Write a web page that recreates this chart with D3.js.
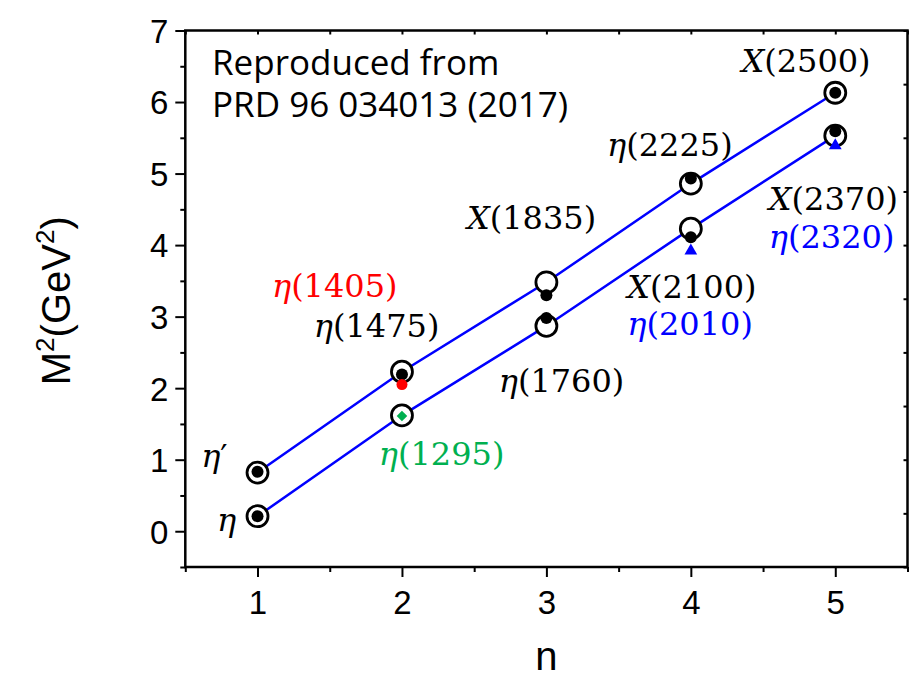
<!DOCTYPE html>
<html>
<head>
<meta charset="utf-8">
<script src="https://cdn.jsdelivr.net/npm/d3@7"></script>
<style>
  body { margin: 0; background: #fff; }
  svg { display: block; }
</style>
</head>
<body>
<div id="chart"></div>
<script>
// radial quantum number
const nValues = [1, 2, 3, 4, 5]

// model predictions (open circles), M^2 in GeV^2
const upperModel = [0.82, 2.23, 3.48, 4.86, 6.13]
const lowerModel = [0.21, 1.62, 2.87, 4.23, 5.53]

// measured states (black dots)
const blackN = [1, 1, 2, 3, 3, 4, 4, 5, 5]
const blackM2 = [0.83, 0.21, 2.19, 3.30, 2.98, 4.93, 4.11, 6.13, 5.59]

// other states
const redPoint = [2, 2.05]        // eta(1405)
const greenPoint = [2, 1.61]      // eta(1295)
const blueN = [4, 5]              // eta(2010), eta(2320)
const blueM2 = [3.92, 5.39]

const xTicks = [1, 2, 3, 4, 5]
const yTicks = [0, 1, 2, 3, 4, 5, 6, 7]

// label text and anchor in data coordinates (start of text, baseline)
const labels = [
  {sym: "η", num: "′", color: "#000", n: 0.61, m2: 0.90},
  {sym: "η", num: "", color: "#000", n: 0.72, m2: 0.0},
  {sym: "η", num: "(1405)", color: "#ff0000", n: 1.10, m2: 3.28},
  {sym: "η", num: "(1475)", color: "#000", n: 1.39, m2: 2.71},
  {sym: "η", num: "(1295)", color: "#00b050", n: 1.84, m2: 0.92},
  {sym: "X", num: "(1835)", color: "#000", n: 2.45, m2: 4.23},
  {sym: "η", num: "(1760)", color: "#000", n: 2.67, m2: 1.95},
  {sym: "η", num: "(2225)", color: "#000", n: 3.42, m2: 5.25},
  {sym: "X", num: "(2100)", color: "#000", n: 3.56, m2: 3.26},
  {sym: "η", num: "(2010)", color: "#0000ff", n: 3.56, m2: 2.75},
  {sym: "X", num: "(2500)", color: "#000", n: 4.35, m2: 6.42},
  {sym: "X", num: "(2370)", color: "#000", n: 4.54, m2: 4.49},
  {sym: "η", num: "(2320)", color: "#0000ff", n: 4.54, m2: 3.96}
]

const width = 924, height = 684
const margin = {left: 185.3, right: 16.5, top: 30.5, bottom: 117}

const svg = d3.select("#chart").append("svg")
  .attr("width", width)
  .attr("height", height)

const x = d3.scaleLinear().domain([0.5, 5.5]).range([margin.left, width - margin.right])
const y = d3.scaleLinear().domain([-0.5, 7]).range([height - margin.bottom, margin.top])

const x0 = x.range()[0], x1 = x.range()[1]
const y0 = y.range()[0], y1 = y.range()[1]

// minor ticks at halves
const xMinor = d3.range(0.5, 5.51, 1)
const yMinor = d3.range(-0.5, 7.01, 1)

const axisFont = "'Liberation Sans', Arial, sans-serif"

// bottom axis
const gx = svg.append("g").attr("transform", `translate(0,${y0})`)
gx.call(d3.axisBottom(x).tickValues(xTicks).tickSize(10).tickSizeOuter(0).tickPadding(6).tickFormat(d3.format("d")))
gx.append("g").call(d3.axisBottom(x).tickValues(xMinor).tickSize(5).tickFormat(""))
gx.selectAll(".domain").remove()
gx.selectAll("text").attr("font-family", axisFont).attr("font-size", 33).attr("fill", "#000")
  .attr("dy", "0.95em")

// left axis
const gy = svg.append("g").attr("transform", `translate(${x0},0)`)
gy.call(d3.axisLeft(y).tickValues(yTicks).tickSize(10).tickPadding(7).tickFormat(d3.format("d")))
gy.append("g").call(d3.axisLeft(y).tickValues(yMinor).tickSize(5).tickFormat(""))
gy.selectAll(".domain").remove()
gy.selectAll("text").attr("font-family", axisFont).attr("font-size", 33).attr("fill", "#000")
  .attr("dy", "0.36em")

// top and right: small inward ticks, 10 divisions
const topTicks = d3.range(11).map(i => x.invert(x0 + i * (x1 - x0) / 10))
const rightTicks = d3.range(11).map(i => y.invert(y0 - i * (y0 - y1) / 10))
const gt = svg.append("g").attr("transform", `translate(0,${y1})`)
  .call(d3.axisTop(x).tickValues(topTicks).tickSize(-4).tickFormat(""))
const gr = svg.append("g").attr("transform", `translate(${x1},0)`)
  .call(d3.axisRight(y).tickValues(rightTicks).tickSize(-4).tickFormat(""))
gt.selectAll(".domain").remove()
gr.selectAll(".domain").remove()
svg.selectAll("g line").attr("stroke", "#000").attr("stroke-width", 2)

// frame
svg.append("rect")
  .attr("x", x0).attr("y", y1)
  .attr("width", x1 - x0).attr("height", y0 - y1)
  .attr("fill", "none").attr("stroke", "#000").attr("stroke-width", 2.5)

// axis titles
svg.append("text")
  .attr("x", x(3)).attr("y", 670)
  .attr("text-anchor", "middle")
  .attr("font-family", axisFont).attr("font-size", 40)
  .text("n")

const yTitle = svg.append("text")
  .attr("transform", `translate(70,${(y0 + y1) / 2 + 2}) rotate(-90)`)
  .attr("text-anchor", "middle")
  .attr("font-family", axisFont).attr("font-size", 40)
yTitle.append("tspan").text("M")
yTitle.append("tspan").attr("font-size", 26).attr("dy", -16).text("2")
yTitle.append("tspan").attr("dy", 16).text("(GeV")
yTitle.append("tspan").attr("font-size", 26).attr("dy", -16).text("2")
yTitle.append("tspan").attr("dy", 16).text(")")

// note
const note = svg.append("text")
  .attr("font-family", "'Open Sans', 'Noto Sans', sans-serif")
  .attr("font-size", 35)
  .attr("fill", "#000")
note.append("tspan").attr("x", 212).attr("y", 75).text("Reproduced from")
note.append("tspan").attr("x", 212).attr("y", 117).text("PRD 96 034013 (2017)")

// trajectory lines
const line = d3.line().x((d, i) => x(nValues[i])).y(d => y(d))
;[upperModel, lowerModel].forEach(series => {
  svg.append("path")
    .datum(series)
    .attr("d", line)
    .attr("fill", "none")
    .attr("stroke", "#0000ff")
    .attr("stroke-width", 2.5)
})

// open circles
const modelPts = nValues.map((n, i) => [n, upperModel[i]])
  .concat(nValues.map((n, i) => [n, lowerModel[i]]))
svg.append("g").selectAll("circle")
  .data(modelPts)
  .join("circle")
  .attr("cx", d => x(d[0]))
  .attr("cy", d => y(d[1]))
  .attr("r", 10.5)
  .attr("fill", "#fff")
  .attr("stroke", "#000")
  .attr("stroke-width", 2.8)

// black dots
svg.append("g").selectAll("circle")
  .data(blackN.map((n, i) => [n, blackM2[i]]))
  .join("circle")
  .attr("cx", d => x(d[0]))
  .attr("cy", d => y(d[1]))
  .attr("r", 6)
  .attr("fill", "#000")

// red dot
svg.append("circle")
  .attr("cx", x(redPoint[0])).attr("cy", y(redPoint[1]))
  .attr("r", 5.5).attr("fill", "#ff0000")

// green diamond
svg.append("path")
  .attr("d", d3.symbol(d3.symbolSquare, 56)())
  .attr("transform", `translate(${x(greenPoint[0])},${y(greenPoint[1])}) rotate(45)`)
  .attr("fill", "#00b050")

// blue triangles
svg.append("g").selectAll("path")
  .data(blueN.map((n, i) => [n, blueM2[i]]))
  .join("path")
  .attr("d", d3.symbol(d3.symbolTriangle, 70)())
  .attr("transform", d => `translate(${x(d[0])},${y(d[1])})`)
  .attr("fill", "#0000ff")

// state labels
const labelFont = "'DejaVu Serif', serif"
const lab = svg.append("g").selectAll("text")
  .data(labels)
  .join("text")
  .attr("x", d => x(d.n))
  .attr("y", d => y(d.m2))
  .attr("font-family", labelFont)
  .attr("font-size", 32)
  .attr("fill", d => d.color)
lab.append("tspan").attr("font-style", "italic").text(d => d.sym)
lab.append("tspan").text(d => d.num)
</script>
</body>
</html>
